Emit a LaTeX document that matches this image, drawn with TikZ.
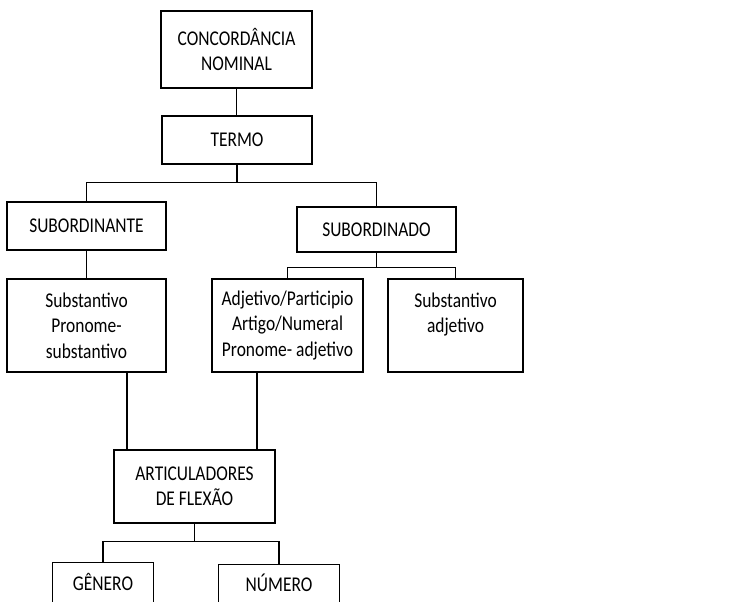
\documentclass[tikz,border=0pt]{standalone}
\usepackage{fontspec}
\setmainfont{Carlito}[FakeStretch=0.83]
\begin{document}
\begin{tikzpicture}[x=1pt, y=-1pt,
        caixa/.style={draw, line width=1.2pt, align=center, inner sep=0pt,
            font=\fontsize{21}{25.5}\selectfont},
        liga/.style={line width=1.2pt}]
        \useasboundingbox (0, 0) rectangle (752, 602);
        \clip (0, 0) rectangle (752, 602);

        \node[caixa, minimum width=151pt, minimum height=77pt] (conc) at (236.5, 49.5) {CONCORDÂNCIA\\NOMINAL};
        \node[caixa, minimum width=150pt, minimum height=48pt] (termo) at (237, 140) {TERMO};
        \node[caixa, minimum width=159pt, minimum height=48pt] (subte) at (86.5, 226) {SUBORDINANTE};
        \node[caixa, minimum width=159pt, minimum height=45pt] (subdo) at (376.5, 229.5) {SUBORDINADO};
        \node[caixa, minimum width=159pt, minimum height=93pt] (subst) at (86.5, 325.5) {Substantivo\\Pronome-\\substantivo};
        \node[caixa, minimum width=151pt, minimum height=93pt] (adj) at (287.5, 325.5) {Adjetivo/Participio\\Artigo/Numeral\\Pronome- adjetivo};
        \node[caixa, minimum width=135pt, minimum height=93pt] (subadj) at (455.5, 325.5) {Substantivo\\adjetivo\\~};
        \node[caixa, minimum width=161pt, minimum height=73pt] (artic) at (194.5, 486.5) {ARTICULADORES\\DE FLEXÃO};
        \node[caixa, draw=none, minimum width=100pt, minimum height=38pt] (genero) at (103, 582) {GÊNERO};
        \node[caixa, draw=none, minimum width=120pt, minimum height=36pt] (numero) at (279, 583) {NÚMERO};
        \draw[liga] ([yshift=-4pt]genero.south west) |- (genero.north east) -- ([yshift=-4pt]genero.south east);
        \draw[liga] ([yshift=-4pt]numero.south west) |- (numero.north east) -- ([yshift=-4pt]numero.south east);

        \draw[liga] (conc.south) -- (conc.south |- termo.north);
        \draw[liga] (termo.south) -- ++(0, 18) coordinate (ramo1);
        \draw[liga] (ramo1) -| (subte.north);
        \draw[liga] (ramo1) -| (subdo.north);
        \draw[liga] (subte) -- (subst);
        \draw[liga] (subdo.south) -- ++(0, 15) coordinate (ramo2);
        \draw[liga] (ramo2) -| (adj.north);
        \draw[liga] (ramo2) -| (subadj.north);
        \path (subst.south) ++(40.5, 0) coordinate (desce1);
        \path (adj.south) ++(-30.5, 0) coordinate (desce2);
        \draw[liga] (desce1) -- (desce1 |- artic.north);
        \draw[liga] (desce2) -- (desce2 |- artic.north);
        \draw[liga] (artic.south) -- ++(0, 18) coordinate (ramo3);
        \draw[liga] (ramo3) -| (genero.north);
        \draw[liga] (ramo3) -| (numero.north);
    \end{tikzpicture}
\end{document}
